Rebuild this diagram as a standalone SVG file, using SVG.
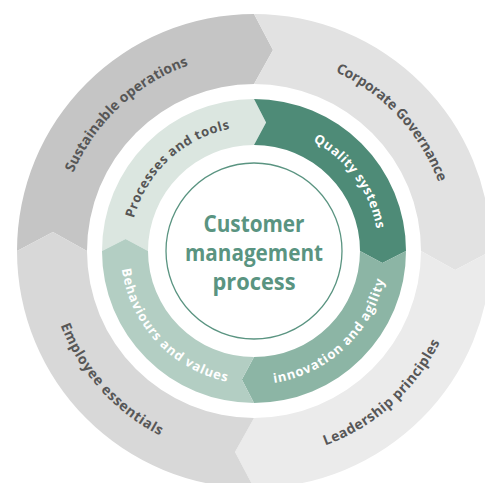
<svg xmlns="http://www.w3.org/2000/svg" width="485" height="483" viewBox="0 0 485 483">
<style>
.ot{font-family:"Open Sans","Liberation Sans",sans-serif;font-weight:700;font-size:14px;fill:#575757;}
.it{font-family:"Open Sans","Liberation Sans",sans-serif;font-weight:700;font-size:13px;}
.ct{font-family:"Open Sans","Liberation Sans",sans-serif;font-weight:700;font-size:24px;fill:#5a9481;text-anchor:middle;}
</style>
<defs>
<path id="pSus" d="M98.8,372.3 A197,197 0 0 1 385.8,104.6"/>
<path id="pCor" d="M132.7,95.8 A197,197 0 0 1 400.4,382.8"/>
<path id="pLea" d="M112.8,402.4 A207,207 0 0 0 419.3,126.4"/>
<path id="pEmp" d="M102.6,109.8 A207,207 0 0 0 378.6,416.3"/>
<path id="pPro" d="M155.9,327.7 A124.5,124.5 0 0 1 337.3,158.5"/>
<path id="pQua" d="M189.9,144.3 A124.5,124.5 0 0 1 335.7,345"/>
<path id="pInn" d="M164.7,350.2 A133.5,133.5 0 0 0 359.2,168.8"/>
<path id="pBeh" d="M154.8,161.7 A133.5,133.5 0 0 0 336.2,356.2"/>
</defs>
<rect width="485" height="483" fill="#ffffff"/>
<g id="sustainable-operations">
<path d="M17,251 A237,237 0 0 1 254,14 L273,49.9 L254,84 A167,167 0 0 0 87,251 L52.9,232 Z" fill="#c5c5c5"/>
<text class="ot"><textPath href="#pSus" startOffset="50%" text-anchor="middle" textLength="162" lengthAdjust="spacing">Sustainable operations</textPath></text>
</g>
<g id="corporate-governance">
<path d="M254,14 A237,237 0 0 1 491,251 L455.1,270 L421,251 A167,167 0 0 0 254,84 L273,49.9 Z" fill="#e2e2e2"/>
<text class="ot"><textPath href="#pCor" startOffset="50%" text-anchor="middle" textLength="155" lengthAdjust="spacing">Corporate Governance</textPath></text>
</g>
<g id="leadership-principles">
<path d="M491,251 A237,237 0 0 1 254,488 L235,452.1 L254,418 A167,167 0 0 0 421,251 L455.1,270 Z" fill="#ebebeb"/>
<text class="ot"><textPath href="#pLea" startOffset="50%" text-anchor="middle" textLength="158" lengthAdjust="spacing">Leadership principles</textPath></text>
</g>
<g id="employee-essentials">
<path d="M254,488 A237,237 0 0 1 17,251 L52.9,232 L87,251 A167,167 0 0 0 254,418 L235,452.1 Z" fill="#d8d8d8"/>
<text class="ot"><textPath href="#pEmp" startOffset="50%" text-anchor="middle" textLength="152" lengthAdjust="spacing">Employee essentials</textPath></text>
</g>
<g id="processes-and-tools">
<path d="M102,251 A152,152 0 0 1 254,99 L266.1,122.6 L254,145 A106,106 0 0 0 148,251 L125.6,238.9 Z" fill="#dbe6e0"/>
<text class="it" fill="#555555"><textPath href="#pPro" startOffset="50%" text-anchor="middle" textLength="138" lengthAdjust="spacing">Processes and tools</textPath></text>
</g>
<g id="quality-systems">
<path d="M254,99 A152,152 0 0 1 406,251 L382.4,263.1 L360,251 A106,106 0 0 0 254,145 L266.1,122.6 Z" fill="#4e8b77"/>
<text class="it" fill="#ffffff"><textPath href="#pQua" startOffset="50%" text-anchor="middle" textLength="112" lengthAdjust="spacing">Quality systems</textPath></text>
</g>
<g id="innovation-and-agility">
<path d="M406,251 A152,152 0 0 1 254,403 L241.9,379.4 L254,357 A106,106 0 0 0 360,251 L382.4,263.1 Z" fill="#8cb5a5"/>
<text class="it" fill="#ffffff"><textPath href="#pInn" startOffset="50%" text-anchor="middle" textLength="160" lengthAdjust="spacing">innovation and agility</textPath></text>
</g>
<g id="behaviours-and-values">
<path d="M254,403 A152,152 0 0 1 102,251 L125.6,238.9 L148,251 A106,106 0 0 0 254,357 L241.9,379.4 Z" fill="#b3cec3"/>
<text class="it" fill="#ffffff"><textPath href="#pBeh" startOffset="50%" text-anchor="middle" textLength="164" lengthAdjust="spacing">Behaviours and values</textPath></text>
</g>
<g id="customer-management-process">
<circle cx="254" cy="251" r="88" fill="#ffffff" stroke="#5a9481" stroke-width="1.3"/>
<text class="ct" x="254" y="232" textLength="101" lengthAdjust="spacingAndGlyphs">Customer</text>
<text class="ct" x="254" y="261" textLength="138" lengthAdjust="spacingAndGlyphs">management</text>
<text class="ct" x="254" y="290" textLength="83" lengthAdjust="spacingAndGlyphs">process</text>
</g>
<g id="connectors"></g>
</svg>
